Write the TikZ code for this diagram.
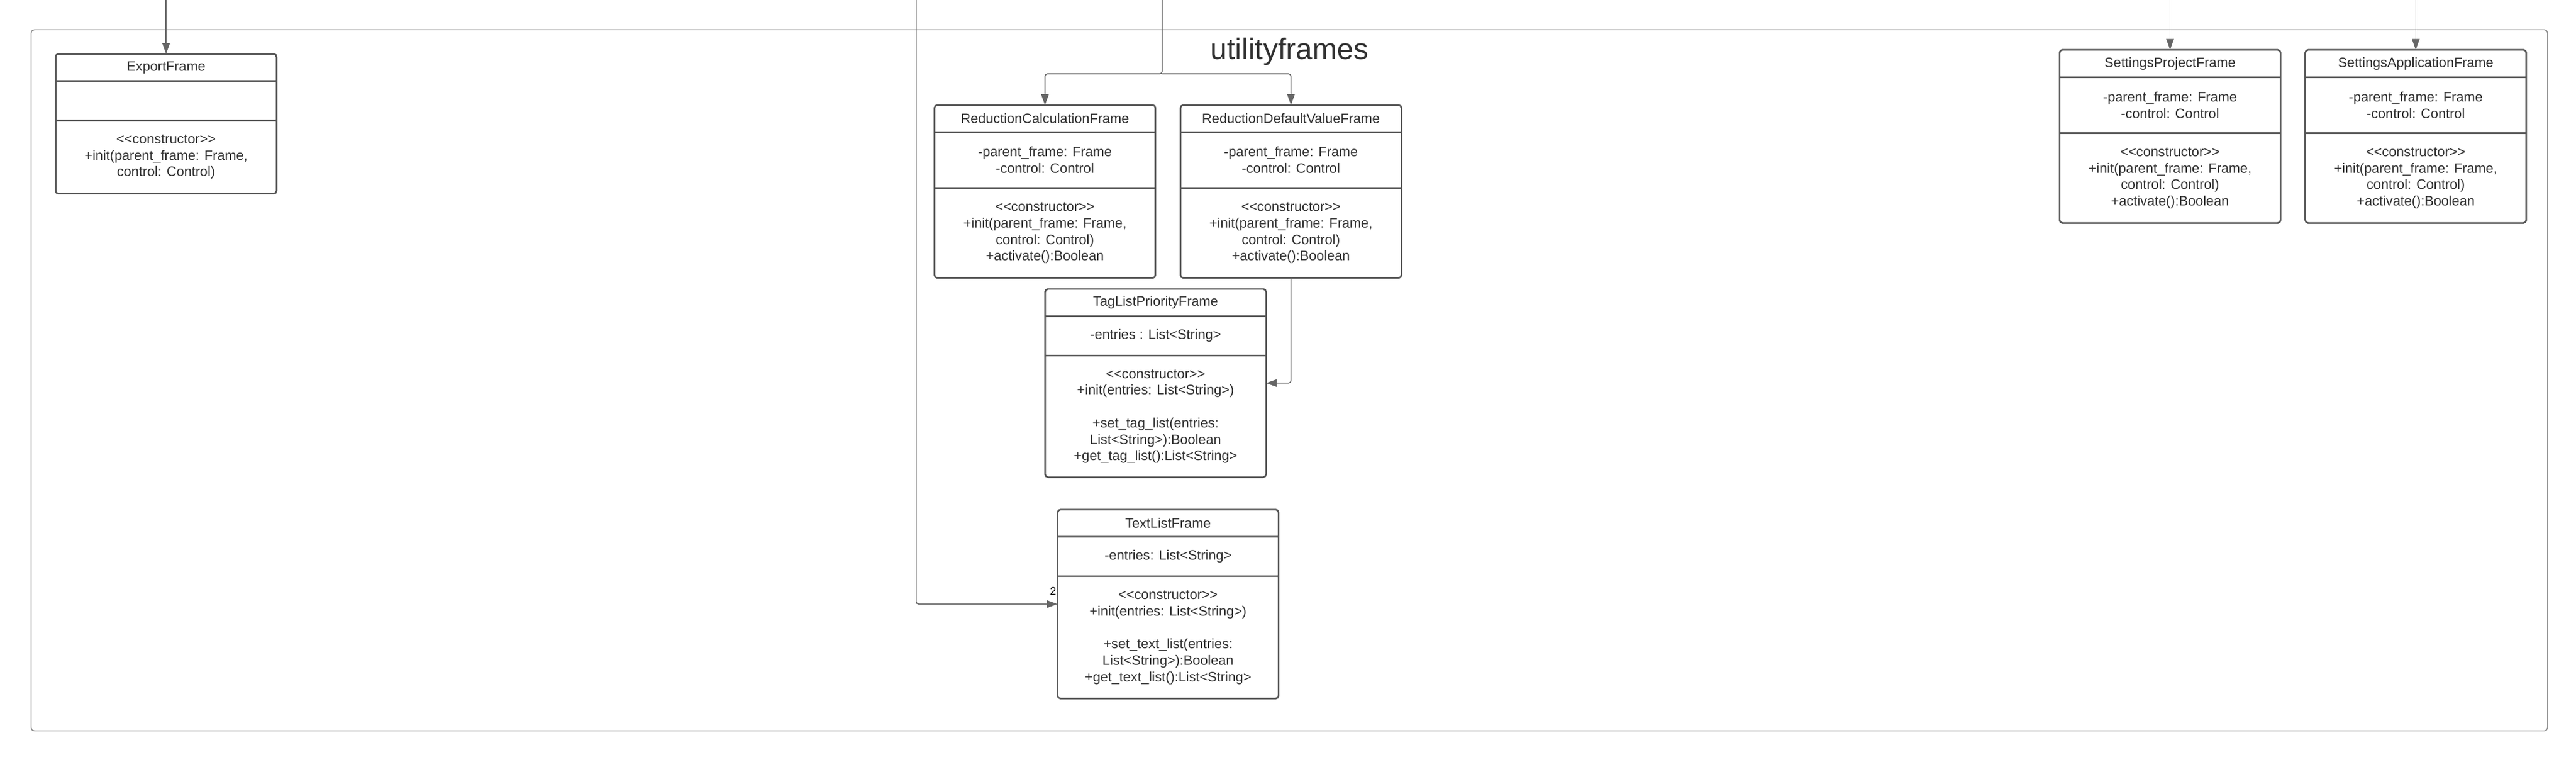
\documentclass[tikz,border=0pt]{standalone}
\usepackage{fontspec}
\setmainfont{Liberation Sans}
\usepackage{tikz}
\usetikzlibrary{arrows.meta,positioning,shapes.multipart}
\definecolor{boxline}{HTML}{565656}
\definecolor{conline}{HTML}{666666}
\definecolor{pkgline}{HTML}{8C8C8C}
\definecolor{umltext}{HTML}{303030}
\newcommand{\umlpart}[2]{\parbox[c][#1pt][c]{134.5pt}{\centering #2}}
\tikzset{umlclass/.style={draw=boxline,line width=1pt,rounded corners=1.8pt,rectangle split,rectangle split parts=3,
        inner sep=0pt,outer sep=0pt,anchor=north,text=umltext,font=\fontsize{8.3}{10}\selectfont},
    connector/.style={draw=conline,line width=0.6pt,rounded corners=1.5pt},
    package/.style={draw=pkgline,line width=0.55pt,rounded corners=2pt,inner sep=0pt},
    pkgtitle/.style={text=umltext,font=\fontsize{18}{22}\selectfont,inner sep=0pt},
    multiplicity/.style={text=black,font=\fontsize{6.7}{8}\selectfont,inner sep=0pt}}

\begin{document}
\begin{tikzpicture}[x=1pt,y=-1pt,>={Triangle[length=6.6pt,width=4.6pt]}]

\useasboundingbox (0,0) rectangle (1568,463.2);

\node (utilityframes) [package,minimum width=1531.8pt,minimum height=426.5pt] at (784.8,231.35) {};
\node (pkg title) [pkgtitle,anchor=base] at (784.9,36.2) {utilityframes};

\node (export) [umlclass] at (101.1,32.8) {%
    \umlpart{15.5}{ExportFrame}%
    \nodepart{two}\umlpart{23}{}%
    \nodepart{three}\umlpart{43.5}{<{}<constructor>{}>\\+init(parent\_frame: Frame,\\control: Control)}};

\node (redcalc) [umlclass] at (636.05,63.9) {%
    \umlpart{15.5}{ReductionCalculationFrame}%
    \nodepart{two}\umlpart{33}{-parent\_frame: Frame\\-control: Control}%
    \nodepart{three}\umlpart{53.7}{<{}<constructor>{}>\\+init(parent\_frame: Frame,\\control: Control)\\+activate():Boolean}};
\node (reddefault) [umlclass] at (785.8,63.9) {%
    \umlpart{15.5}{ReductionDefaultValueFrame}%
    \nodepart{two}\umlpart{33}{-parent\_frame: Frame\\-control: Control}%
    \nodepart{three}\umlpart{53.7}{<{}<constructor>{}>\\+init(parent\_frame: Frame,\\control: Control)\\+activate():Boolean}};

\node (taglist) [umlclass] at (703.4,175.8) {%
    \umlpart{15.5}{TagListPriorityFrame}%
    \nodepart{two}\umlpart{23}{-entries : List<String>}%
    \nodepart{three}\umlpart{73}{<{}<constructor>{}>\\+init(entries: List<String>)\\[10pt]+set\_tag\_list(entries:\\List<String>):Boolean\\+get\_tag\_list():List<String>}};
\node (textlist) [umlclass] at (711,310) {%
    \umlpart{15.5}{TextListFrame}%
    \nodepart{two}\umlpart{23}{-entries: List<String>}%
    \nodepart{three}\umlpart{73.5}{<{}<constructor>{}>\\+init(entries: List<String>)\\[10pt]+set\_text\_list(entries:\\List<String>):Boolean\\+get\_text\_list():List<String>}};

\node (setproject) [umlclass] at (1320.9,30.3) {%
    \umlpart{15.7}{SettingsProjectFrame}%
    \nodepart{two}\umlpart{33}{-parent\_frame: Frame\\-control: Control}%
    \nodepart{three}\umlpart{53.7}{<{}<constructor>{}>\\+init(parent\_frame: Frame,\\control: Control)\\+activate():Boolean}};
\node (setapp) [umlclass] at (1470.45,30.3) {%
    \umlpart{15.7}{SettingsApplicationFrame}%
    \nodepart{two}\umlpart{33}{-parent\_frame: Frame\\-control: Control}%
    \nodepart{three}\umlpart{53.7}{<{}<constructor>{}>\\+init(parent\_frame: Frame,\\control: Control)\\+activate():Boolean}};

\coordinate (export in) at (101.1,0);
\coordinate (text in) at (557.7,0);
\coordinate (red in) at (707.4,0);
\coordinate (red split) at (707.4,44.9);
\coordinate (project in) at (1320.9,0);
\coordinate (app in) at (1470.45,0);

\draw [connector,->] (export in) -- (export);
\draw [connector,->] (red in) -- (red split) -| (redcalc);
\draw [connector,->] (red split) -| (reddefault);
\draw [connector,->] (reddefault) |- (taglist);
\draw [connector,->] (text in) |- (textlist)
    node [multiplicity,pos=1,anchor=base east,xshift=-0.6pt,yshift=5.6pt] {2};
\draw [connector,->] (project in) -- (setproject);
\draw [connector,->] (app in) -- (setapp);

\end{tikzpicture}
\end{document}
